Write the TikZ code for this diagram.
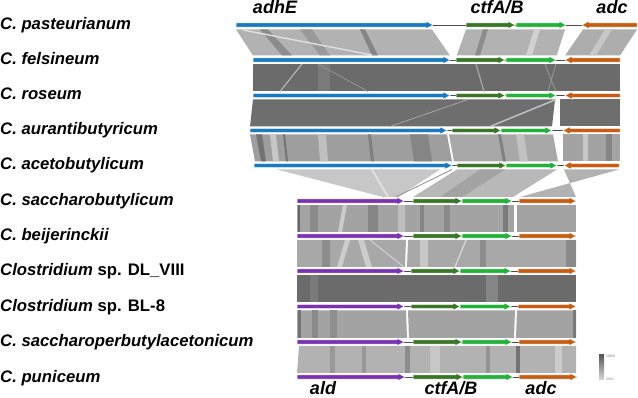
\documentclass[tikz,border=0pt]{standalone}
\usepackage{fontspec}
\setmainfont{Liberation Sans}
\definecolor{adhEblue}{RGB}{24,122,192}
\definecolor{ctfAgreen}{RGB}{58,118,38}
\definecolor{ctfBgreen}{RGB}{34,178,58}
\definecolor{adcorange}{RGB}{200,92,18}
\definecolor{aldpurple}{RGB}{120,50,178}
\tikzset{
  genebox/.style={draw=white,line width=0.5pt},
  linkline/.style={draw=black!70,line width=0.9pt},
  species/.style={anchor=base west,inner sep=0pt,font=\fontsize{16.7}{18}\selectfont\bfseries\itshape},
  genename/.style={anchor=base,inner sep=0pt,font=\fontsize{18}{20}\selectfont\bfseries\itshape},
  legendtxt/.style={anchor=west,inner sep=0pt,text=black!55,font=\fontsize{3.5}{4}\selectfont}
}
% gene arrows: start x, track y, end x, colour
\newcommand{\genefwd}[4]{\filldraw[fill=#4,genebox] (#1,#2-2.2) -- (#3-7,#2-2.2) -- (#3-7,#2-3.8) -- (#3,#2) -- (#3-7,#2+3.8) -- (#3-7,#2+2.2) -- (#1,#2+2.2) -- cycle;}
\newcommand{\generev}[4]{\filldraw[fill=#4,genebox] (#3,#2-2.2) -- (#1+7,#2-2.2) -- (#1+7,#2-3.8) -- (#1,#2) -- (#1+7,#2+3.8) -- (#1+7,#2+2.2) -- (#3,#2+2.2) -- cycle;}
\begin{document}
\begin{tikzpicture}[x=1pt,y=-1pt]
\useasboundingbox (0,0) rectangle (638,398);

% species
\node[species] (pas) at (0,29.5) {C. pasteurianum};
\node[species] (fel) at (0,64.5) {C. felsineum};
\node[species] (ros) at (0,100) {C. roseum};
\node[species] (aur) at (0,135) {C. aurantibutyricum};
\node[species] (ace) at (0,170) {C. acetobutylicum};
\node[species] (sac) at (0,206) {C. saccharobutylicum};
\node[species] (bei) at (0,241) {C. beijerinckii};
\node[species] (dl) at (0,276) {Clostridium \normalfont\bfseries sp. DL\_VIII};
\node[species] (bl) at (0,311.5) {Clostridium \normalfont\bfseries sp. BL-8};
\node[species] (spb) at (0,347) {C. saccharoperbutylacetonicum};
\node[species] (pun) at (0,382) {C. puniceum};

% gene names
\node[genename] (adhEtop) at (275,14) {adhE};
\node[genename] (ctftop) at (497,14) {ctfA/B};
\node[genename] (adctop) at (612,14) {adc};
\node[genename] (aldbot) at (323,395) {ald};
\node[genename] (ctfbot) at (451,395) {ctfA/B};
\node[genename] (adcbot) at (541,395) {adc};

% pasteurianum -> felsineum
\fill[black!30] (236,29.5) -- (432,29.5) -- (450,55.5) -- (253,55.5) -- cycle;
\fill[black!45] (260,29.5) -- (268,29.5) -- (292,55.5) -- (282,55.5) -- cycle;
\fill[black!40] (300,29.5) -- (312,29.5) -- (330,55.5) -- (320,55.5) -- cycle;
\fill[black!48] (360,29.5) -- (365,29.5) -- (378,55.5) -- (372,55.5) -- cycle;
\draw[black!12,line width=1.4pt] (243,30) -- (372,55);
\fill[black!30] (466,29.5) -- (565,29.5) -- (556.7,55.5) -- (456.7,55.5) -- cycle;
\fill[black!45] (483,29.5) -- (488,29.5) -- (480,55.5) -- (475,55.5) -- cycle;
\fill[black!18] (534,29.5) -- (540,29.5) -- (532,55.5) -- (526,55.5) -- cycle;
\fill[black!32] (583,29.5) -- (637,29.5) -- (620,55.5) -- (565,55.5) -- cycle;
\fill[black!22] (605,29.5) -- (612,29.5) -- (596,55.5) -- (589,55.5) -- cycle;

% felsineum -> roseum
\fill[black!58] (253,64) rectangle (620,91.5);
\fill[black!52] (318,64) rectangle (330,91.5);
\draw[black!25,line width=1pt] (302,64) -- (280,91.5);
\draw[black!42,line width=0.8pt] (318,64) -- (368,91.5);
\draw[black!38,line width=1.5pt] (476,64) -- (484,91.5);
\draw[black!40,line width=0.8pt] (545,64) -- (556,91.5);
\draw[black!40,line width=0.8pt] (556,64) -- (548,91.5);

% roseum -> aurantibutyricum
\fill[black!57] (253,99.5) -- (555,99.5) -- (552,126.5) -- (250,126.5) -- cycle;
\fill[black!57] (560,99.5) rectangle (620,126.5);
\draw[black!35,line width=0.8pt] (468,99.5) -- (390,126.5);
\draw[black!25,line width=1.5pt] (556,99.5) -- (490,126.5);

% aurantibutyricum -> acetobutylicum
\fill[black!38] (250,134.5) -- (447,134.5) -- (452,161.5) -- (255,161.5) -- cycle;
\fill[black!55] (256,134.5) -- (262,134.5) -- (266,161.5) -- (261,161.5) -- cycle;
\fill[black!22] (270,134.5) -- (276,134.5) -- (279,161.5) -- (273,161.5) -- cycle;
\fill[black!55] (283,134.5) -- (285,134.5) -- (288,161.5) -- (286,161.5) -- cycle;
\fill[black!25] (318,134.5) -- (326,134.5) -- (328,161.5) -- (320,161.5) -- cycle;
\fill[black!50] (368,134.5) -- (371,134.5) -- (374,161.5) -- (371,161.5) -- cycle;
\fill[black!48] (410,134.5) -- (428,134.5) -- (432,161.5) -- (414,161.5) -- cycle;
\fill[black!34] (449,134.5) -- (553,134.5) -- (558,161.5) -- (454,161.5) -- cycle;
\fill[black!50] (498,134.5) -- (501,134.5) -- (506,161.5) -- (503,161.5) -- cycle;
\fill[black!24] (516,134.5) -- (524,134.5) -- (528,161.5) -- (520,161.5) -- cycle;
\fill[black!36] (563,134.5) rectangle (620,161.5);
\fill[black!22] (583,134.5) rectangle (588,161.5);
\fill[black!48] (606,134.5) rectangle (612,161.5);

% acetobutylicum -> saccharobutylicum
\fill[black!22] (277,169.5) -- (440,169.5) -- (398,197) -- (383,197) -- cycle;
\draw[black!12,line width=2pt] (372,169.5) -- (388,197);
\draw[black!45,line width=0.8pt] (452,169.5) -- (396,197);
\fill[black!28] (457,169.5) -- (557,169.5) -- (513,197) -- (413,197) -- cycle;
\fill[black!36] (480,169.5) -- (505,169.5) -- (462,197) -- (440,197) -- cycle;
\fill[black!30] (564,169.5) -- (619,169.5) -- (520,197) -- (576,197) -- cycle;

% saccharobutylicum -> beijerinckii
\fill[black!36] (297,205) rectangle (514,232);
\fill[black!36] (517,205) rectangle (576,232);
\fill[black!60] (298,205) rectangle (300,232);
\fill[black!46] (310,205) rectangle (318,232);
\fill[black!20] (343,205) -- (347,205) -- (342,232) -- (338,232) -- cycle;
\fill[black!48] (368,205) rectangle (378,232);
\fill[black!25] (398,205) rectangle (405,232);
\fill[black!48] (420,205) rectangle (424,232);
\fill[black!46] (444,205) rectangle (450,232);
\fill[black!52] (503,205) rectangle (508,232);

% beijerinckii -> DL_VIII
\fill[black!34] (297,240) -- (406,240) -- (405,267) -- (297,267) -- cycle;
\fill[black!34] (408,240) -- (576,240) -- (576,267) -- (407,267) -- cycle;
\fill[black!45] (322,240) rectangle (330,267);
\fill[black!20] (345,240) -- (350,240) -- (342,267) -- (337,267) -- cycle;
\fill[black!20] (358,240) -- (364,240) -- (372,267) -- (366,267) -- cycle;
\draw[black!18,line width=1pt] (370,240) -- (404,267);
\fill[black!22] (420,240) rectangle (428,267);
\draw[black!18,line width=1.5pt] (466,240) -- (455,267);
\fill[black!45] (480,240) rectangle (486,267);
\fill[black!46] (566,240) rectangle (576,267);

% DL_VIII -> BL-8
\fill[black!58] (297,275) rectangle (576,302.5);
\fill[black!52] (310,275) rectangle (318,302.5);
\fill[black!48] (486,275) rectangle (498,302.5);

% BL-8 -> saccharoperbutylacetonicum
\fill[black!36] (297,310.5) -- (406,310.5) -- (407,338) -- (297,338) -- cycle;
\fill[black!36] (408,310.5) -- (515,310.5) -- (514,338) -- (409,338) -- cycle;
\fill[black!36] (517,310.5) -- (576,310.5) -- (576,338) -- (516,338) -- cycle;
\fill[black!55] (298,310.5) rectangle (301,338);
\fill[black!46] (312,310.5) rectangle (318,338);
\fill[black!44] (330,310.5) rectangle (337,338);
\fill[black!52] (573,310.5) rectangle (576,338);

% saccharoperbutylacetonicum -> puniceum
\fill[black!30] (299,346) -- (576,346) -- (576,373) -- (297,373) -- cycle;
\fill[black!40] (330,346) rectangle (335,373);
\fill[black!40] (362,346) rectangle (366,373);
\fill[black!45] (405,346) rectangle (410,373);
\fill[black!22] (430,346) rectangle (440,373);
\fill[black!42] (486,346) rectangle (490,373);
\fill[black!55] (516,346) rectangle (520,373);
\fill[black!20] (555,346) rectangle (562,373);

% tracks, upper part
\draw[linkline] (236,25) -- (637,25);
\genefwd{236}{25}{433}{adhEblue}
\genefwd{466}{25}{515}{ctfAgreen}
\genefwd{516}{25}{566}{ctfBgreen}
\generev{582}{25}{637}{adcorange}
\draw[linkline] (253,60) -- (620,60);
\genefwd{253}{60}{450}{adhEblue}
\genefwd{456}{60}{505}{ctfAgreen}
\genefwd{506}{60}{556}{ctfBgreen}
\generev{565}{60}{620}{adcorange}
\draw[linkline] (253,95.5) -- (620,95.5);
\genefwd{253}{95.5}{450}{adhEblue}
\genefwd{456}{95.5}{505}{ctfAgreen}
\genefwd{506}{95.5}{556}{ctfBgreen}
\generev{565}{95.5}{620}{adcorange}
\draw[linkline] (250,130.5) -- (620,130.5);
\genefwd{250}{130.5}{447}{adhEblue}
\genefwd{452}{130.5}{501}{ctfAgreen}
\genefwd{501}{130.5}{552}{ctfBgreen}
\generev{563}{130.5}{620}{adcorange}
\draw[linkline] (254,165.5) -- (619,165.5);
\genefwd{254}{165.5}{452}{adhEblue}
\genefwd{457}{165.5}{506}{ctfAgreen}
\genefwd{506}{165.5}{557}{ctfBgreen}
\generev{564}{165.5}{619}{adcorange}

% tracks, lower part
\draw[linkline] (297,201) -- (576,201);
\genefwd{297}{201}{404}{aldpurple}
\genefwd{413}{201}{462}{ctfAgreen}
\genefwd{462}{201}{512}{ctfBgreen}
\genefwd{519}{201}{576}{adcorange}
\draw[linkline] (297,236) -- (576,236);
\genefwd{297}{236}{404}{aldpurple}
\genefwd{413}{236}{462}{ctfAgreen}
\genefwd{462}{236}{512}{ctfBgreen}
\genefwd{519}{236}{576}{adcorange}
\draw[linkline] (297,271) -- (576,271);
\genefwd{297}{271}{404}{aldpurple}
\genefwd{411}{271}{460}{ctfAgreen}
\genefwd{460}{271}{511}{ctfBgreen}
\genefwd{518}{271}{576}{adcorange}
\draw[linkline] (297,306.5) -- (576,306.5);
\genefwd{297}{306.5}{404}{aldpurple}
\genefwd{411}{306.5}{460}{ctfAgreen}
\genefwd{460}{306.5}{511}{ctfBgreen}
\genefwd{518}{306.5}{576}{adcorange}
\draw[linkline] (297,342) -- (576,342);
\genefwd{297}{342}{404}{aldpurple}
\genefwd{413}{342}{462}{ctfAgreen}
\genefwd{462}{342}{512}{ctfBgreen}
\genefwd{519}{342}{576}{adcorange}
\draw[linkline] (297,377) -- (577,377);
\genefwd{297}{377}{405}{aldpurple}
\genefwd{413}{377}{463}{ctfAgreen}
\genefwd{463}{377}{513}{ctfBgreen}
\genefwd{519}{377}{577}{adcorange}

% identity scale
\shade[top color=black!65,bottom color=black!15] (599,355) rectangle (604,380);
\node[legendtxt] (hi) at (606,356.5) {100\%};
\node[legendtxt] (lo) at (606,379) {23\%};
\end{tikzpicture}
\end{document}
